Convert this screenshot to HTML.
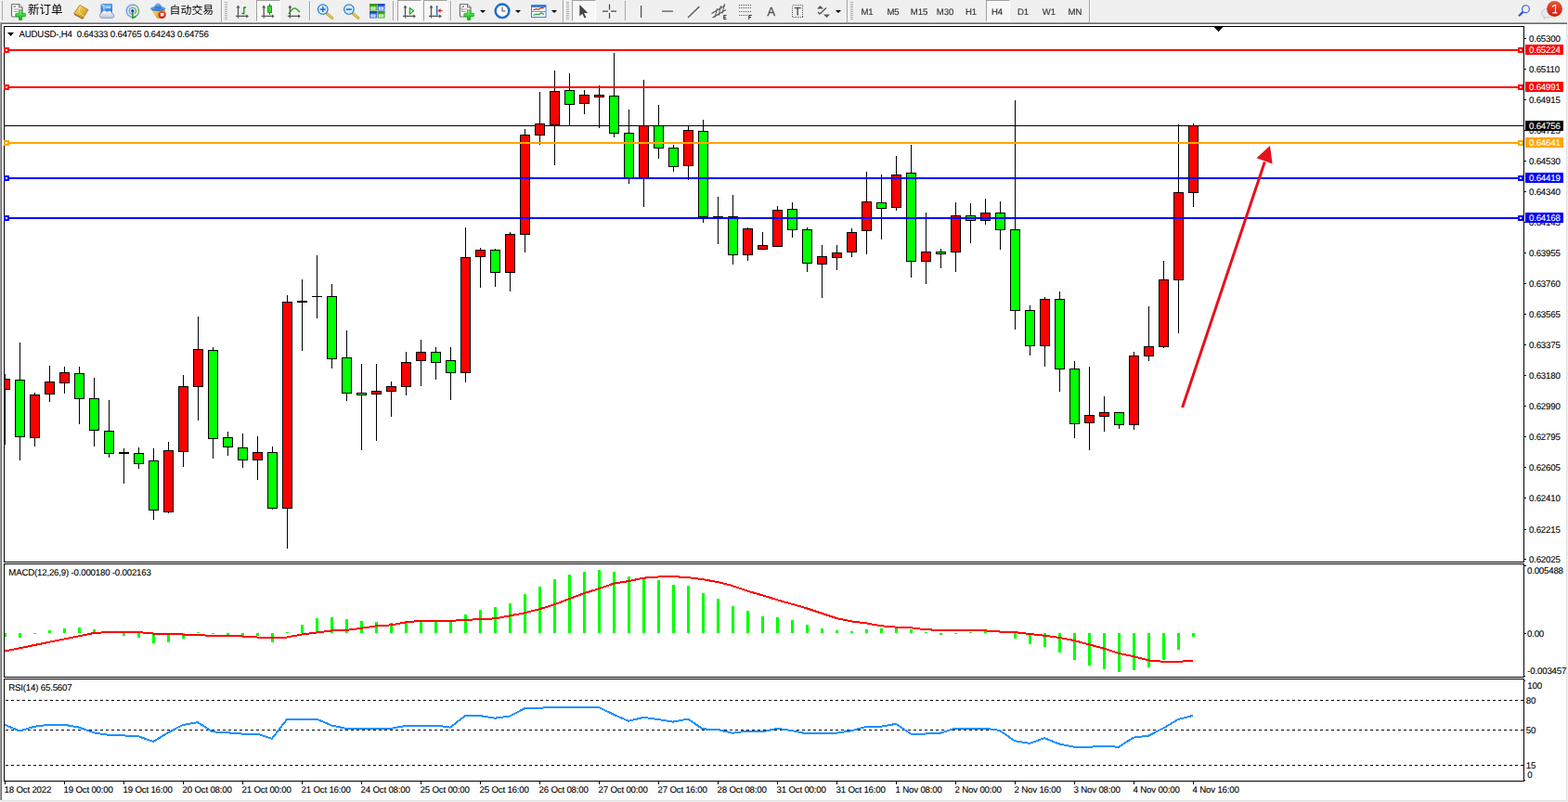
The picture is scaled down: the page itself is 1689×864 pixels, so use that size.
<!DOCTYPE html>
<html><head><meta charset="utf-8"><title>AUDUSD-,H4</title>
<style>
html,body{margin:0;padding:0}
body{width:1689px;height:864px;overflow:hidden;background:#f0f0f0;font-family:"Liberation Sans",sans-serif;position:relative}
.t{position:absolute;white-space:nowrap;font-size:9.7px;letter-spacing:-0.2px;line-height:10px;color:#000;text-rendering:geometricPrecision;-webkit-text-stroke:0.1px currentColor}
#frame{position:absolute;left:0;top:24px;width:1689px;height:840px;background:#fff}
#frame i{position:absolute;display:block}
svg{position:absolute;left:0;top:0}
.tf{position:absolute;top:9px;width:28px;text-align:center;font-size:9.6px;letter-spacing:-0.05px;line-height:10px;color:#333;text-rendering:geometricPrecision;will-change:transform;-webkit-text-stroke:0.15px #333}
.pb{position:absolute;top:0;height:23px;background:repeating-conic-gradient(#fff 0 25%,#f0f0f0 0 50%) 0 0/2px 2px;border-top:1px solid #a0a0a0;border-left:1px solid #a0a0a0;border-right:1px solid #fff;border-bottom:1px solid #fff;box-sizing:border-box}
.sep{position:absolute;top:1px;width:1px;height:21px;background:#a0a0a0;border-right:1px solid #fff}
.grip{position:absolute;top:2px;width:3px;height:19px;background:repeating-linear-gradient(to bottom,#b0b0b0 0,#b0b0b0 1px,#f0f0f0 1px,#f0f0f0 2px)}
.dd{position:absolute;top:11px;width:0;height:0;border-left:3px solid transparent;border-right:3px solid transparent;border-top:3px solid #000}
</style></head><body>

<div id="frame">
<i style="left:0;top:0;width:1688px;height:1px;background:#a0a0a0"></i>
<i style="left:0;top:1px;width:1688px;height:1px;background:#696969"></i>
<i style="left:0;top:0;width:1px;height:838px;background:#a0a0a0"></i>
<i style="left:1px;top:1px;width:1px;height:837px;background:#696969"></i>
<i style="left:1687px;top:2px;width:1px;height:837px;background:#e3e3e3"></i>
<i style="left:1688px;top:0;width:1px;height:840px;background:#f0f0f0"></i>
<i style="left:1px;top:838px;width:1687px;height:1px;background:#e3e3e3"></i>
<i style="left:0;top:839px;width:1689px;height:1px;background:#f0f0f0"></i>
</div>
<svg width="1689" height="864" viewBox="0 0 1689 864" shape-rendering="crispEdges">
<rect x="4" y="28" width="1638" height="1" fill="#000"/>
<rect x="4" y="28" width="1" height="578" fill="#000"/>
<rect x="4" y="605" width="1638" height="1" fill="#000"/>
<rect x="4" y="607" width="1638" height="1" fill="#000"/>
<rect x="4" y="607" width="1" height="123" fill="#000"/>
<rect x="4" y="729" width="1638" height="1" fill="#000"/>
<rect x="4" y="731" width="1638" height="1" fill="#000"/>
<rect x="4" y="731" width="1" height="111" fill="#000"/>
<rect x="4" y="841" width="1638" height="1" fill="#000"/>
<rect x="1641" y="28" width="1" height="578" fill="#000"/>
<rect x="1641" y="607" width="1" height="123" fill="#000"/>
<rect x="1641" y="731" width="1" height="111" fill="#000"/>
<clipPath id="cp"><rect x="5" y="29" width="1636" height="812"/></clipPath><g clip-path="url(#cp)">
<rect x="5" y="135" width="1636" height="1" fill="#000"/>
<rect x="5" y="403" width="1" height="76" fill="#000"/>
<rect x="0" y="408" width="11" height="12" fill="#000"/>
<rect x="1" y="409" width="9" height="10" fill="#ff0000"/>
<rect x="21" y="369" width="1" height="127" fill="#000"/>
<rect x="16" y="409" width="11" height="62" fill="#000"/>
<rect x="17" y="410" width="9" height="60" fill="#00ff00"/>
<rect x="37" y="423" width="1" height="58" fill="#000"/>
<rect x="32" y="425" width="11" height="47" fill="#000"/>
<rect x="33" y="426" width="9" height="45" fill="#ff0000"/>
<rect x="53" y="394" width="1" height="39" fill="#000"/>
<rect x="48" y="411" width="11" height="14" fill="#000"/>
<rect x="49" y="412" width="9" height="12" fill="#ff0000"/>
<rect x="69" y="395" width="1" height="29" fill="#000"/>
<rect x="64" y="401" width="11" height="12" fill="#000"/>
<rect x="65" y="402" width="9" height="10" fill="#ff0000"/>
<rect x="85" y="395" width="1" height="62" fill="#000"/>
<rect x="80" y="402" width="11" height="28" fill="#000"/>
<rect x="81" y="403" width="9" height="26" fill="#00ff00"/>
<rect x="101" y="407" width="1" height="74" fill="#000"/>
<rect x="96" y="429" width="11" height="35" fill="#000"/>
<rect x="97" y="430" width="9" height="33" fill="#00ff00"/>
<rect x="117" y="431" width="1" height="62" fill="#000"/>
<rect x="112" y="464" width="11" height="25" fill="#000"/>
<rect x="113" y="465" width="9" height="23" fill="#00ff00"/>
<rect x="133" y="483" width="1" height="38" fill="#000"/>
<rect x="128" y="487" width="11" height="2" fill="#000"/>
<rect x="149" y="482" width="1" height="23" fill="#000"/>
<rect x="144" y="488" width="11" height="12" fill="#000"/>
<rect x="145" y="489" width="9" height="10" fill="#00ff00"/>
<rect x="165" y="483" width="1" height="77" fill="#000"/>
<rect x="160" y="496" width="11" height="54" fill="#000"/>
<rect x="161" y="497" width="9" height="52" fill="#00ff00"/>
<rect x="181" y="476" width="1" height="77" fill="#000"/>
<rect x="176" y="485" width="11" height="67" fill="#000"/>
<rect x="177" y="486" width="9" height="65" fill="#ff0000"/>
<rect x="197" y="404" width="1" height="99" fill="#000"/>
<rect x="192" y="416" width="11" height="71" fill="#000"/>
<rect x="193" y="417" width="9" height="69" fill="#ff0000"/>
<rect x="213" y="341" width="1" height="112" fill="#000"/>
<rect x="208" y="376" width="11" height="41" fill="#000"/>
<rect x="209" y="377" width="9" height="39" fill="#ff0000"/>
<rect x="229" y="374" width="1" height="120" fill="#000"/>
<rect x="224" y="377" width="11" height="96" fill="#000"/>
<rect x="225" y="378" width="9" height="94" fill="#00ff00"/>
<rect x="245" y="465" width="1" height="26" fill="#000"/>
<rect x="240" y="471" width="11" height="11" fill="#000"/>
<rect x="241" y="472" width="9" height="9" fill="#00ff00"/>
<rect x="261" y="467" width="1" height="37" fill="#000"/>
<rect x="256" y="482" width="11" height="14" fill="#000"/>
<rect x="257" y="483" width="9" height="12" fill="#00ff00"/>
<rect x="277" y="470" width="1" height="47" fill="#000"/>
<rect x="272" y="487" width="11" height="9" fill="#000"/>
<rect x="273" y="488" width="9" height="7" fill="#ff0000"/>
<rect x="293" y="481" width="1" height="68" fill="#000"/>
<rect x="288" y="487" width="11" height="61" fill="#000"/>
<rect x="289" y="488" width="9" height="59" fill="#00ff00"/>
<rect x="309" y="318" width="1" height="273" fill="#000"/>
<rect x="304" y="325" width="11" height="223" fill="#000"/>
<rect x="305" y="326" width="9" height="221" fill="#ff0000"/>
<rect x="325" y="301" width="1" height="77" fill="#000"/>
<rect x="320" y="324" width="11" height="2" fill="#000"/>
<rect x="341" y="275" width="1" height="68" fill="#000"/>
<rect x="336" y="319" width="11" height="1" fill="#000"/>
<rect x="357" y="306" width="1" height="91" fill="#000"/>
<rect x="352" y="319" width="11" height="68" fill="#000"/>
<rect x="353" y="320" width="9" height="66" fill="#00ff00"/>
<rect x="373" y="356" width="1" height="76" fill="#000"/>
<rect x="368" y="385" width="11" height="39" fill="#000"/>
<rect x="369" y="386" width="9" height="37" fill="#00ff00"/>
<rect x="389" y="392" width="1" height="93" fill="#000"/>
<rect x="384" y="423" width="11" height="3" fill="#000"/>
<rect x="385" y="424" width="9" height="1" fill="#00ff00"/>
<rect x="405" y="392" width="1" height="83" fill="#000"/>
<rect x="400" y="421" width="11" height="4" fill="#000"/>
<rect x="401" y="422" width="9" height="2" fill="#ff0000"/>
<rect x="421" y="411" width="1" height="38" fill="#000"/>
<rect x="416" y="416" width="11" height="6" fill="#000"/>
<rect x="417" y="417" width="9" height="4" fill="#ff0000"/>
<rect x="437" y="379" width="1" height="47" fill="#000"/>
<rect x="432" y="390" width="11" height="27" fill="#000"/>
<rect x="433" y="391" width="9" height="25" fill="#ff0000"/>
<rect x="453" y="366" width="1" height="50" fill="#000"/>
<rect x="448" y="379" width="11" height="10" fill="#000"/>
<rect x="449" y="380" width="9" height="8" fill="#ff0000"/>
<rect x="469" y="374" width="1" height="35" fill="#000"/>
<rect x="464" y="379" width="11" height="12" fill="#000"/>
<rect x="465" y="380" width="9" height="10" fill="#00ff00"/>
<rect x="485" y="374" width="1" height="57" fill="#000"/>
<rect x="480" y="388" width="11" height="14" fill="#000"/>
<rect x="481" y="389" width="9" height="12" fill="#00ff00"/>
<rect x="501" y="245" width="1" height="167" fill="#000"/>
<rect x="496" y="277" width="11" height="125" fill="#000"/>
<rect x="497" y="278" width="9" height="123" fill="#ff0000"/>
<rect x="517" y="267" width="1" height="43" fill="#000"/>
<rect x="512" y="269" width="11" height="8" fill="#000"/>
<rect x="513" y="270" width="9" height="6" fill="#ff0000"/>
<rect x="533" y="268" width="1" height="41" fill="#000"/>
<rect x="528" y="269" width="11" height="25" fill="#000"/>
<rect x="529" y="270" width="9" height="23" fill="#00ff00"/>
<rect x="549" y="250" width="1" height="64" fill="#000"/>
<rect x="544" y="252" width="11" height="42" fill="#000"/>
<rect x="545" y="253" width="9" height="40" fill="#ff0000"/>
<rect x="565" y="139" width="1" height="133" fill="#000"/>
<rect x="560" y="145" width="11" height="108" fill="#000"/>
<rect x="561" y="146" width="9" height="106" fill="#ff0000"/>
<rect x="581" y="99" width="1" height="57" fill="#000"/>
<rect x="576" y="133" width="11" height="13" fill="#000"/>
<rect x="577" y="134" width="9" height="11" fill="#ff0000"/>
<rect x="597" y="76" width="1" height="102" fill="#000"/>
<rect x="592" y="98" width="11" height="37" fill="#000"/>
<rect x="593" y="99" width="9" height="35" fill="#ff0000"/>
<rect x="613" y="79" width="1" height="57" fill="#000"/>
<rect x="608" y="97" width="11" height="16" fill="#000"/>
<rect x="609" y="98" width="9" height="14" fill="#00ff00"/>
<rect x="629" y="97" width="1" height="26" fill="#000"/>
<rect x="624" y="102" width="11" height="10" fill="#000"/>
<rect x="625" y="103" width="9" height="8" fill="#ff0000"/>
<rect x="645" y="92" width="1" height="46" fill="#000"/>
<rect x="640" y="102" width="11" height="3" fill="#000"/>
<rect x="641" y="103" width="9" height="1" fill="#ff0000"/>
<rect x="661" y="57" width="1" height="91" fill="#000"/>
<rect x="656" y="103" width="11" height="41" fill="#000"/>
<rect x="657" y="104" width="9" height="39" fill="#00ff00"/>
<rect x="677" y="118" width="1" height="80" fill="#000"/>
<rect x="672" y="143" width="11" height="49" fill="#000"/>
<rect x="673" y="144" width="9" height="47" fill="#00ff00"/>
<rect x="693" y="86" width="1" height="137" fill="#000"/>
<rect x="688" y="135" width="11" height="57" fill="#000"/>
<rect x="689" y="136" width="9" height="55" fill="#ff0000"/>
<rect x="709" y="113" width="1" height="58" fill="#000"/>
<rect x="704" y="135" width="11" height="25" fill="#000"/>
<rect x="705" y="136" width="9" height="23" fill="#00ff00"/>
<rect x="725" y="156" width="1" height="29" fill="#000"/>
<rect x="720" y="159" width="11" height="21" fill="#000"/>
<rect x="721" y="160" width="9" height="19" fill="#00ff00"/>
<rect x="741" y="135" width="1" height="59" fill="#000"/>
<rect x="736" y="140" width="11" height="39" fill="#000"/>
<rect x="737" y="141" width="9" height="37" fill="#ff0000"/>
<rect x="757" y="129" width="1" height="111" fill="#000"/>
<rect x="752" y="141" width="11" height="93" fill="#000"/>
<rect x="753" y="142" width="9" height="91" fill="#00ff00"/>
<rect x="773" y="212" width="1" height="51" fill="#000"/>
<rect x="768" y="233" width="11" height="1" fill="#000"/>
<rect x="789" y="210" width="1" height="75" fill="#000"/>
<rect x="784" y="233" width="11" height="42" fill="#000"/>
<rect x="785" y="234" width="9" height="40" fill="#00ff00"/>
<rect x="805" y="245" width="1" height="36" fill="#000"/>
<rect x="800" y="246" width="11" height="29" fill="#000"/>
<rect x="801" y="247" width="9" height="27" fill="#ff0000"/>
<rect x="821" y="250" width="1" height="19" fill="#000"/>
<rect x="816" y="264" width="11" height="5" fill="#000"/>
<rect x="817" y="265" width="9" height="3" fill="#ff0000"/>
<rect x="837" y="222" width="1" height="44" fill="#000"/>
<rect x="832" y="226" width="11" height="40" fill="#000"/>
<rect x="833" y="227" width="9" height="38" fill="#ff0000"/>
<rect x="853" y="218" width="1" height="38" fill="#000"/>
<rect x="848" y="225" width="11" height="23" fill="#000"/>
<rect x="849" y="226" width="9" height="21" fill="#00ff00"/>
<rect x="869" y="245" width="1" height="48" fill="#000"/>
<rect x="864" y="247" width="11" height="37" fill="#000"/>
<rect x="865" y="248" width="9" height="35" fill="#00ff00"/>
<rect x="885" y="264" width="1" height="57" fill="#000"/>
<rect x="880" y="276" width="11" height="9" fill="#000"/>
<rect x="881" y="277" width="9" height="7" fill="#ff0000"/>
<rect x="901" y="264" width="1" height="27" fill="#000"/>
<rect x="896" y="272" width="11" height="6" fill="#000"/>
<rect x="897" y="273" width="9" height="4" fill="#ff0000"/>
<rect x="917" y="246" width="1" height="31" fill="#000"/>
<rect x="912" y="250" width="11" height="22" fill="#000"/>
<rect x="913" y="251" width="9" height="20" fill="#ff0000"/>
<rect x="933" y="185" width="1" height="89" fill="#000"/>
<rect x="928" y="217" width="11" height="32" fill="#000"/>
<rect x="929" y="218" width="9" height="30" fill="#ff0000"/>
<rect x="949" y="188" width="1" height="70" fill="#000"/>
<rect x="944" y="218" width="11" height="7" fill="#000"/>
<rect x="945" y="219" width="9" height="5" fill="#00ff00"/>
<rect x="965" y="168" width="1" height="59" fill="#000"/>
<rect x="960" y="188" width="11" height="36" fill="#000"/>
<rect x="961" y="189" width="9" height="34" fill="#ff0000"/>
<rect x="981" y="156" width="1" height="143" fill="#000"/>
<rect x="976" y="186" width="11" height="96" fill="#000"/>
<rect x="977" y="187" width="9" height="94" fill="#00ff00"/>
<rect x="997" y="229" width="1" height="77" fill="#000"/>
<rect x="992" y="271" width="11" height="11" fill="#000"/>
<rect x="993" y="272" width="9" height="9" fill="#ff0000"/>
<rect x="1013" y="268" width="1" height="21" fill="#000"/>
<rect x="1008" y="271" width="11" height="3" fill="#000"/>
<rect x="1009" y="272" width="9" height="1" fill="#00ff00"/>
<rect x="1029" y="218" width="1" height="75" fill="#000"/>
<rect x="1024" y="232" width="11" height="40" fill="#000"/>
<rect x="1025" y="233" width="9" height="38" fill="#ff0000"/>
<rect x="1045" y="219" width="1" height="43" fill="#000"/>
<rect x="1040" y="232" width="11" height="6" fill="#000"/>
<rect x="1041" y="233" width="9" height="4" fill="#00ff00"/>
<rect x="1061" y="214" width="1" height="28" fill="#000"/>
<rect x="1056" y="229" width="11" height="9" fill="#000"/>
<rect x="1057" y="230" width="9" height="7" fill="#ff0000"/>
<rect x="1077" y="217" width="1" height="52" fill="#000"/>
<rect x="1072" y="229" width="11" height="19" fill="#000"/>
<rect x="1073" y="230" width="9" height="17" fill="#00ff00"/>
<rect x="1093" y="108" width="1" height="247" fill="#000"/>
<rect x="1088" y="247" width="11" height="88" fill="#000"/>
<rect x="1089" y="248" width="9" height="86" fill="#00ff00"/>
<rect x="1109" y="329" width="1" height="54" fill="#000"/>
<rect x="1104" y="334" width="11" height="39" fill="#000"/>
<rect x="1105" y="335" width="9" height="37" fill="#00ff00"/>
<rect x="1125" y="320" width="1" height="75" fill="#000"/>
<rect x="1120" y="322" width="11" height="51" fill="#000"/>
<rect x="1121" y="323" width="9" height="49" fill="#ff0000"/>
<rect x="1141" y="314" width="1" height="108" fill="#000"/>
<rect x="1136" y="322" width="11" height="76" fill="#000"/>
<rect x="1137" y="323" width="9" height="74" fill="#00ff00"/>
<rect x="1157" y="389" width="1" height="83" fill="#000"/>
<rect x="1152" y="397" width="11" height="60" fill="#000"/>
<rect x="1153" y="398" width="9" height="58" fill="#00ff00"/>
<rect x="1173" y="395" width="1" height="90" fill="#000"/>
<rect x="1168" y="447" width="11" height="9" fill="#000"/>
<rect x="1169" y="448" width="9" height="7" fill="#ff0000"/>
<rect x="1189" y="427" width="1" height="38" fill="#000"/>
<rect x="1184" y="444" width="11" height="5" fill="#000"/>
<rect x="1185" y="445" width="9" height="3" fill="#ff0000"/>
<rect x="1205" y="444" width="1" height="18" fill="#000"/>
<rect x="1200" y="444" width="11" height="14" fill="#000"/>
<rect x="1201" y="445" width="9" height="12" fill="#00ff00"/>
<rect x="1221" y="379" width="1" height="84" fill="#000"/>
<rect x="1216" y="383" width="11" height="75" fill="#000"/>
<rect x="1217" y="384" width="9" height="73" fill="#ff0000"/>
<rect x="1237" y="330" width="1" height="59" fill="#000"/>
<rect x="1232" y="373" width="11" height="11" fill="#000"/>
<rect x="1233" y="374" width="9" height="9" fill="#ff0000"/>
<rect x="1253" y="281" width="1" height="94" fill="#000"/>
<rect x="1248" y="301" width="11" height="73" fill="#000"/>
<rect x="1249" y="302" width="9" height="71" fill="#ff0000"/>
<rect x="1269" y="134" width="1" height="225" fill="#000"/>
<rect x="1264" y="207" width="11" height="95" fill="#000"/>
<rect x="1265" y="208" width="9" height="93" fill="#ff0000"/>
<rect x="1285" y="133" width="1" height="90" fill="#000"/>
<rect x="1280" y="135" width="11" height="73" fill="#000"/>
<rect x="1281" y="136" width="9" height="71" fill="#ff0000"/>
</g>
<rect x="5" y="53" width="1636" height="2" fill="#ff0000"/>
<rect x="4" y="51" width="6" height="6" fill="#ff0000"/>
<rect x="6" y="53" width="2" height="2" fill="#fff"/>
<rect x="1635" y="51" width="6" height="6" fill="#ff0000"/>
<rect x="1637" y="53" width="2" height="2" fill="#fff"/>
<rect x="5" y="93" width="1636" height="2" fill="#ff0000"/>
<rect x="4" y="91" width="6" height="6" fill="#ff0000"/>
<rect x="6" y="93" width="2" height="2" fill="#fff"/>
<rect x="1635" y="91" width="6" height="6" fill="#ff0000"/>
<rect x="1637" y="93" width="2" height="2" fill="#fff"/>
<rect x="5" y="153" width="1636" height="2" fill="#ffa500"/>
<rect x="4" y="151" width="6" height="6" fill="#ffa500"/>
<rect x="6" y="153" width="2" height="2" fill="#fff"/>
<rect x="1635" y="151" width="6" height="6" fill="#ffa500"/>
<rect x="1637" y="153" width="2" height="2" fill="#fff"/>
<rect x="5" y="191" width="1636" height="2" fill="#0000ff"/>
<rect x="4" y="189" width="6" height="6" fill="#0000ff"/>
<rect x="6" y="191" width="2" height="2" fill="#fff"/>
<rect x="1635" y="189" width="6" height="6" fill="#0000ff"/>
<rect x="1637" y="191" width="2" height="2" fill="#fff"/>
<rect x="5" y="234" width="1636" height="2" fill="#0000ff"/>
<rect x="4" y="232" width="6" height="6" fill="#0000ff"/>
<rect x="6" y="234" width="2" height="2" fill="#fff"/>
<rect x="1635" y="232" width="6" height="6" fill="#0000ff"/>
<rect x="1637" y="234" width="2" height="2" fill="#fff"/>
<rect x="1308" y="29" width="9" height="1" fill="#000"/>
<rect x="1309" y="30" width="7" height="1" fill="#000"/>
<rect x="1310" y="31" width="5" height="1" fill="#000"/>
<rect x="1311" y="32" width="3" height="1" fill="#000"/>
<rect x="1312" y="33" width="1" height="1" fill="#000"/>
<rect x="1642" y="41" width="2" height="1" fill="#000"/>
<rect x="1642" y="74" width="2" height="1" fill="#000"/>
<rect x="1642" y="107" width="2" height="1" fill="#000"/>
<rect x="1642" y="140" width="2" height="1" fill="#000"/>
<rect x="1642" y="173" width="2" height="1" fill="#000"/>
<rect x="1642" y="206" width="2" height="1" fill="#000"/>
<rect x="1642" y="239" width="2" height="1" fill="#000"/>
<rect x="1642" y="272" width="2" height="1" fill="#000"/>
<rect x="1642" y="305" width="2" height="1" fill="#000"/>
<rect x="1642" y="338" width="2" height="1" fill="#000"/>
<rect x="1642" y="371" width="2" height="1" fill="#000"/>
<rect x="1642" y="404" width="2" height="1" fill="#000"/>
<rect x="1642" y="437" width="2" height="1" fill="#000"/>
<rect x="1642" y="470" width="2" height="1" fill="#000"/>
<rect x="1642" y="503" width="2" height="1" fill="#000"/>
<rect x="1642" y="536" width="2" height="1" fill="#000"/>
<rect x="1642" y="570" width="2" height="1" fill="#000"/>
<rect x="1642" y="602" width="2" height="1" fill="#000"/>
<g clip-path="url(#cp)">
<rect x="4" y="682" width="3" height="4" fill="#00ff00"/>
<rect x="20" y="682" width="3" height="5" fill="#00ff00"/>
<rect x="36" y="682" width="3" height="1" fill="#00ff00"/>
<rect x="52" y="679" width="3" height="3" fill="#00ff00"/>
<rect x="68" y="677" width="3" height="5" fill="#00ff00"/>
<rect x="84" y="676" width="3" height="6" fill="#00ff00"/>
<rect x="100" y="678" width="3" height="4" fill="#00ff00"/>
<rect x="116" y="681" width="3" height="1" fill="#00ff00"/>
<rect x="132" y="682" width="3" height="3" fill="#00ff00"/>
<rect x="148" y="682" width="3" height="5" fill="#00ff00"/>
<rect x="164" y="682" width="3" height="11" fill="#00ff00"/>
<rect x="180" y="682" width="3" height="10" fill="#00ff00"/>
<rect x="196" y="682" width="3" height="6" fill="#00ff00"/>
<rect x="212" y="681" width="3" height="1" fill="#00ff00"/>
<rect x="228" y="682" width="3" height="1" fill="#00ff00"/>
<rect x="244" y="682" width="3" height="4" fill="#00ff00"/>
<rect x="260" y="682" width="3" height="4" fill="#00ff00"/>
<rect x="276" y="682" width="3" height="3" fill="#00ff00"/>
<rect x="292" y="682" width="3" height="10" fill="#00ff00"/>
<rect x="308" y="681" width="3" height="1" fill="#00ff00"/>
<rect x="324" y="673" width="3" height="9" fill="#00ff00"/>
<rect x="340" y="666" width="3" height="16" fill="#00ff00"/>
<rect x="356" y="665" width="3" height="17" fill="#00ff00"/>
<rect x="372" y="667" width="3" height="15" fill="#00ff00"/>
<rect x="388" y="669" width="3" height="13" fill="#00ff00"/>
<rect x="404" y="670" width="3" height="12" fill="#00ff00"/>
<rect x="420" y="671" width="3" height="11" fill="#00ff00"/>
<rect x="436" y="669" width="3" height="13" fill="#00ff00"/>
<rect x="452" y="668" width="3" height="14" fill="#00ff00"/>
<rect x="468" y="669" width="3" height="13" fill="#00ff00"/>
<rect x="484" y="669" width="3" height="13" fill="#00ff00"/>
<rect x="500" y="662" width="3" height="20" fill="#00ff00"/>
<rect x="516" y="657" width="3" height="25" fill="#00ff00"/>
<rect x="532" y="654" width="3" height="28" fill="#00ff00"/>
<rect x="548" y="650" width="3" height="32" fill="#00ff00"/>
<rect x="564" y="640" width="3" height="42" fill="#00ff00"/>
<rect x="580" y="632" width="3" height="50" fill="#00ff00"/>
<rect x="596" y="624" width="3" height="58" fill="#00ff00"/>
<rect x="612" y="619" width="3" height="63" fill="#00ff00"/>
<rect x="628" y="616" width="3" height="66" fill="#00ff00"/>
<rect x="644" y="614" width="3" height="68" fill="#00ff00"/>
<rect x="660" y="616" width="3" height="66" fill="#00ff00"/>
<rect x="676" y="621" width="3" height="61" fill="#00ff00"/>
<rect x="692" y="622" width="3" height="60" fill="#00ff00"/>
<rect x="708" y="625" width="3" height="57" fill="#00ff00"/>
<rect x="724" y="630" width="3" height="52" fill="#00ff00"/>
<rect x="740" y="631" width="3" height="51" fill="#00ff00"/>
<rect x="756" y="639" width="3" height="43" fill="#00ff00"/>
<rect x="772" y="645" width="3" height="37" fill="#00ff00"/>
<rect x="788" y="653" width="3" height="29" fill="#00ff00"/>
<rect x="804" y="658" width="3" height="24" fill="#00ff00"/>
<rect x="820" y="664" width="3" height="18" fill="#00ff00"/>
<rect x="836" y="665" width="3" height="17" fill="#00ff00"/>
<rect x="852" y="668" width="3" height="14" fill="#00ff00"/>
<rect x="868" y="673" width="3" height="9" fill="#00ff00"/>
<rect x="884" y="677" width="3" height="5" fill="#00ff00"/>
<rect x="900" y="679" width="3" height="3" fill="#00ff00"/>
<rect x="916" y="680" width="3" height="2" fill="#00ff00"/>
<rect x="932" y="678" width="3" height="4" fill="#00ff00"/>
<rect x="948" y="677" width="3" height="5" fill="#00ff00"/>
<rect x="964" y="677" width="3" height="5" fill="#00ff00"/>
<rect x="980" y="678" width="3" height="4" fill="#00ff00"/>
<rect x="996" y="681" width="3" height="1" fill="#00ff00"/>
<rect x="1012" y="682" width="3" height="2" fill="#00ff00"/>
<rect x="1028" y="682" width="3" height="1" fill="#00ff00"/>
<rect x="1044" y="681" width="3" height="1" fill="#00ff00"/>
<rect x="1060" y="680" width="3" height="2" fill="#00ff00"/>
<rect x="1076" y="681" width="3" height="1" fill="#00ff00"/>
<rect x="1092" y="682" width="3" height="6" fill="#00ff00"/>
<rect x="1108" y="682" width="3" height="12" fill="#00ff00"/>
<rect x="1124" y="682" width="3" height="15" fill="#00ff00"/>
<rect x="1140" y="682" width="3" height="21" fill="#00ff00"/>
<rect x="1156" y="682" width="3" height="29" fill="#00ff00"/>
<rect x="1172" y="682" width="3" height="35" fill="#00ff00"/>
<rect x="1188" y="682" width="3" height="39" fill="#00ff00"/>
<rect x="1204" y="682" width="3" height="42" fill="#00ff00"/>
<rect x="1220" y="682" width="3" height="40" fill="#00ff00"/>
<rect x="1236" y="682" width="3" height="37" fill="#00ff00"/>
<rect x="1252" y="682" width="3" height="29" fill="#00ff00"/>
<rect x="1268" y="682" width="3" height="18" fill="#00ff00"/>
<rect x="1284" y="682" width="3" height="4" fill="#00ff00"/>
<polyline points="5,701.5 21,698.3 37,695.0 53,691.8 69,688.5 85,685.3 101,682.0 117,681.0 133,681.0 149,681.0 165,682.5 181,682.5 197,683.5 213,684.0 229,685.0 245,685.0 261,685.5 277,686.5 293,686.5 309,686.5 325,683.5 341,681.5 357,679.5 373,678.9 389,676.8 405,674.4 421,673.4 437,670.4 453,668.8 469,668.8 485,668.8 501,668.0 517,667.0 533,666.4 549,663.4 565,660.3 581,656.3 597,651.3 613,645.2 629,639.2 645,634.2 661,628.7 677,626.1 693,622.7 709,621.5 725,621.1 741,622.1 757,624.1 773,627.1 789,631.1 805,636.6 821,641.2 837,646.2 853,650.7 869,655.3 885,660.7 901,666.0 917,669.4 933,671.4 949,674.3 965,675.6 981,676.2 997,678.3 1013,678.8 1029,678.8 1045,678.8 1061,679.4 1077,680.5 1093,681.1 1109,683.0 1125,684.7 1141,686.9 1157,690.0 1173,694.3 1189,698.6 1205,703.9 1221,707.1 1237,711.4 1253,712.8 1269,712.8 1285,711.8" fill="none" stroke="#ff0000" stroke-width="2" stroke-linejoin="round"/>
<path d="M6 754.5H1641" stroke="#000" stroke-width="1" stroke-dasharray="3 3" fill="none"/>
<path d="M6 786.5H1641" stroke="#000" stroke-width="1" stroke-dasharray="3 3" fill="none"/>
<path d="M6 824.5H1641" stroke="#000" stroke-width="1" stroke-dasharray="3 3" fill="none"/>
<polyline points="5,780.7 21,787.5 37,782.8 53,780.7 69,780.7 85,783.6 101,789.3 117,791.9 133,792.4 149,793.2 165,798.9 181,789.3 197,781.0 213,778.1 229,788.3 245,789.3 261,790.6 277,790.6 293,795.8 309,775.0 325,774.5 341,774.5 357,781.5 373,784.9 389,785.4 405,785.1 421,784.8 437,782.0 453,781.5 469,781.5 485,783.6 501,771.1 517,771.1 533,773.7 549,771.6 565,763.3 581,762.7 597,762.0 613,762.5 629,762.0 645,762.0 661,769.8 677,776.8 693,772.9 709,775.0 725,777.6 741,774.5 757,785.4 773,785.9 789,789.8 805,787.5 821,788.3 837,784.9 853,787.0 869,790.5 885,790.3 901,789.7 917,787.3 933,782.9 949,782.7 965,779.9 981,790.5 997,790.5 1013,789.7 1029,784.6 1045,784.6 1061,784.6 1077,787.0 1093,798.2 1109,800.9 1125,795.2 1141,801.4 1157,804.7 1173,804.7 1189,803.9 1205,804.7 1221,794.6 1237,792.7 1253,784.6 1269,775.0 1285,770.9" fill="none" stroke="#1e90ff" stroke-width="2" stroke-linejoin="round"/>
</g>
<rect x="1642" y="682" width="2" height="1" fill="#000"/>
<rect x="1642" y="728" width="1" height="1" fill="#000"/>
<rect x="1642" y="733" width="1" height="1" fill="#000"/>
<rect x="1642" y="840" width="1" height="1" fill="#000"/>
<rect x="1642" y="609" width="2" height="1" fill="#000"/>
<rect x="5" y="842" width="1" height="3" fill="#000"/>
<rect x="69" y="842" width="1" height="3" fill="#000"/>
<rect x="133" y="842" width="1" height="3" fill="#000"/>
<rect x="197" y="842" width="1" height="3" fill="#000"/>
<rect x="261" y="842" width="1" height="3" fill="#000"/>
<rect x="325" y="842" width="1" height="3" fill="#000"/>
<rect x="389" y="842" width="1" height="3" fill="#000"/>
<rect x="453" y="842" width="1" height="3" fill="#000"/>
<rect x="517" y="842" width="1" height="3" fill="#000"/>
<rect x="581" y="842" width="1" height="3" fill="#000"/>
<rect x="645" y="842" width="1" height="3" fill="#000"/>
<rect x="709" y="842" width="1" height="3" fill="#000"/>
<rect x="773" y="842" width="1" height="3" fill="#000"/>
<rect x="837" y="842" width="1" height="3" fill="#000"/>
<rect x="901" y="842" width="1" height="3" fill="#000"/>
<rect x="965" y="842" width="1" height="3" fill="#000"/>
<rect x="1029" y="842" width="1" height="3" fill="#000"/>
<rect x="1093" y="842" width="1" height="3" fill="#000"/>
<rect x="1157" y="842" width="1" height="3" fill="#000"/>
<rect x="1221" y="842" width="1" height="3" fill="#000"/>
<rect x="1285" y="842" width="1" height="3" fill="#000"/>
</svg>
<svg width="1689" height="864" viewBox="0 0 1689 864">
<path d="M1273.6 438.9L1362.3 174.5" stroke="#e8111b" stroke-width="3" fill="none"/>
<path d="M1368 157L1353.500 170.200L1370.600 176.400Z" fill="#e8111b"/>
<path d="M8 35h7l-3.5 4z" fill="#000"/>
</svg>
<div class="t" style="left:20.5px;top:32.9px;color:#000;">AUDUSD-,H4&nbsp; 0.64333 0.64765 0.64243 0.64756</div>
<div class="t" style="left:9.3px;top:612.9px;color:#000;">MACD(12,26,9) -0.000180 -0.002163</div>
<div class="t" style="left:9.3px;top:736.9px;color:#000;">RSI(14) 65.5607</div>
<div class="t" style="left:1647px;top:37.9px;color:#000;">0.65300</div>
<div class="t" style="left:1647px;top:70.9px;color:#000;">0.65110</div>
<div class="t" style="left:1647px;top:103.9px;color:#000;">0.64915</div>
<div class="t" style="left:1647px;top:136.9px;color:#000;">0.64725</div>
<div class="t" style="left:1647px;top:169.9px;color:#000;">0.64530</div>
<div class="t" style="left:1647px;top:202.9px;color:#000;">0.64340</div>
<div class="t" style="left:1647px;top:235.9px;color:#000;">0.64145</div>
<div class="t" style="left:1647px;top:268.9px;color:#000;">0.63955</div>
<div class="t" style="left:1647px;top:301.9px;color:#000;">0.63760</div>
<div class="t" style="left:1647px;top:334.9px;color:#000;">0.63565</div>
<div class="t" style="left:1647px;top:367.9px;color:#000;">0.63375</div>
<div class="t" style="left:1647px;top:400.9px;color:#000;">0.63180</div>
<div class="t" style="left:1647px;top:433.9px;color:#000;">0.62990</div>
<div class="t" style="left:1647px;top:466.9px;color:#000;">0.62795</div>
<div class="t" style="left:1647px;top:499.9px;color:#000;">0.62605</div>
<div class="t" style="left:1647px;top:532.9px;color:#000;">0.62410</div>
<div class="t" style="left:1647px;top:566.9px;color:#000;">0.62215</div>
<div class="t" style="left:1647px;top:598.9px;color:#000;">0.62025</div>
<div style="position:absolute;left:1643px;top:48px;width:41px;height:11px;background:#ff0000"></div>
<div class="t" style="left:1647px;top:49.9px;color:#fff;">0.65224</div>
<div style="position:absolute;left:1643px;top:88px;width:41px;height:11px;background:#ff0000"></div>
<div class="t" style="left:1647px;top:89.9px;color:#fff;">0.64991</div>
<div style="position:absolute;left:1643px;top:130px;width:41px;height:11px;background:#000"></div>
<div class="t" style="left:1647px;top:131.9px;color:#fff;">0.64756</div>
<div style="position:absolute;left:1643px;top:148px;width:41px;height:11px;background:#ffa500"></div>
<div class="t" style="left:1647px;top:149.9px;color:#fff;">0.64641</div>
<div style="position:absolute;left:1643px;top:186px;width:41px;height:11px;background:#0000ff"></div>
<div class="t" style="left:1647px;top:187.9px;color:#fff;">0.64419</div>
<div style="position:absolute;left:1643px;top:229px;width:41px;height:11px;background:#0000ff"></div>
<div class="t" style="left:1647px;top:230.9px;color:#fff;">0.64168</div>
<div class="t" style="left:1645px;top:610.9px;color:#000;">0.005488</div>
<div class="t" style="left:1645px;top:678.6px;color:#000;">0.00</div>
<div class="t" style="left:1645.3px;top:718.9px;color:#000;">-0.003457</div>
<div class="t" style="left:1645.3px;top:734.7px;color:#000;">100</div>
<div class="t" style="left:1643.8px;top:750.5px;color:#000;">80</div>
<div class="t" style="left:1643.8px;top:782.7px;color:#000;">50</div>
<div class="t" style="left:1643.8px;top:820.9px;color:#000;">15</div>
<div class="t" style="left:1645.3px;top:830.7px;color:#000;">0</div>
<div class="t" style="left:4.6px;top:846.9px;color:#000;">18 Oct 2022</div>
<div class="t" style="left:68.6px;top:846.9px;color:#000;">19 Oct 00:00</div>
<div class="t" style="left:132.6px;top:846.9px;color:#000;">19 Oct 16:00</div>
<div class="t" style="left:196.6px;top:846.9px;color:#000;">20 Oct 08:00</div>
<div class="t" style="left:260.6px;top:846.9px;color:#000;">21 Oct 00:00</div>
<div class="t" style="left:324.6px;top:846.9px;color:#000;">21 Oct 16:00</div>
<div class="t" style="left:388.6px;top:846.9px;color:#000;">24 Oct 08:00</div>
<div class="t" style="left:452.6px;top:846.9px;color:#000;">25 Oct 00:00</div>
<div class="t" style="left:516.6px;top:846.9px;color:#000;">25 Oct 16:00</div>
<div class="t" style="left:580.6px;top:846.9px;color:#000;">26 Oct 08:00</div>
<div class="t" style="left:644.6px;top:846.9px;color:#000;">27 Oct 00:00</div>
<div class="t" style="left:708.6px;top:846.9px;color:#000;">27 Oct 16:00</div>
<div class="t" style="left:772.6px;top:846.9px;color:#000;">28 Oct 08:00</div>
<div class="t" style="left:836.6px;top:846.9px;color:#000;">31 Oct 00:00</div>
<div class="t" style="left:900.6px;top:846.9px;color:#000;">31 Oct 16:00</div>
<div class="t" style="left:964.6px;top:846.9px;color:#000;">1 Nov 08:00</div>
<div class="t" style="left:1028.6px;top:846.9px;color:#000;">2 Nov 00:00</div>
<div class="t" style="left:1092.6px;top:846.9px;color:#000;">2 Nov 16:00</div>
<div class="t" style="left:1156.6px;top:846.9px;color:#000;">3 Nov 08:00</div>
<div class="t" style="left:1220.6px;top:846.9px;color:#000;">4 Nov 00:00</div>
<div class="t" style="left:1284.6px;top:846.9px;color:#000;">4 Nov 16:00</div>
<div id="tb" style="position:absolute;left:0;top:0;width:1689px;height:24px;background:#f0f0f0">
<div class="pb" style="left:276px;width:26px"></div>
<div class="pb" style="left:428px;width:26px"></div>
<div class="pb" style="left:456px;width:26px"></div>
<div class="pb" style="left:616px;width:26px"></div>
<div class="pb" style="left:1062px;width:26px"></div>
<div class="sep" style="left:333px"></div>
<div class="sep" style="left:423px"></div>
<div class="sep" style="left:485px"></div>
<div class="sep" style="left:673px"></div>
<div class="sep" style="left:238px;top:0;height:24px"></div>
<div class="sep" style="left:606px;top:0;height:24px"></div>
<div class="sep" style="left:912px;top:0;height:24px"></div>
<div class="sep" style="left:1173px;top:0;height:24px"></div>
<div class="sep" style="left:2px;border-right:none;background:#a8a8a8"></div>
<div class="grip" style="left:242px"></div>
<div class="grip" style="left:610px"></div>
<div class="grip" style="left:916px"></div>
<div class="dd" style="left:516.5px"></div>
<div class="dd" style="left:555.3px"></div>
<div class="dd" style="left:594.4px"></div>
<div class="dd" style="left:900.3px"></div>
<div class="tf" style="left:920px">M1</div>
<div class="tf" style="left:948px">M5</div>
<div class="tf" style="left:976px">M15</div>
<div class="tf" style="left:1004px">M30</div>
<div class="tf" style="left:1032px">H1</div>
<div class="tf" style="left:1060px">H4</div>
<div class="tf" style="left:1088px">D1</div>
<div class="tf" style="left:1116px">W1</div>
<div class="tf" style="left:1144px">MN</div>
<svg width="1689" height="24" viewBox="0 0 1689 24">
<defs><linearGradient id="gp" x1="0" y1="0" x2="0" y2="1"><stop offset="0" stop-color="#7dff7d"/><stop offset="1" stop-color="#00b400"/></linearGradient><linearGradient id="gy" x1="0" y1="0" x2="1" y2="1"><stop offset="0" stop-color="#ffe36a"/><stop offset="1" stop-color="#c98a12"/></linearGradient><linearGradient id="gb" x1="0" y1="0" x2="0" y2="1"><stop offset="0" stop-color="#7fc4f5"/><stop offset="1" stop-color="#1c66c9"/></linearGradient><linearGradient id="gr" x1="0" y1="0" x2="0" y2="1"><stop offset="0" stop-color="#ee5533"/><stop offset="1" stop-color="#cc1a0c"/></linearGradient><linearGradient id="gc" x1="0" y1="0" x2="0" y2="1"><stop offset="0" stop-color="#ffffff"/><stop offset="1" stop-color="#b9c6de"/></linearGradient><g id="doc"><path d="M.5 1.5a1 1 0 0 1 1-1h7l3.5 3.5v9a1 1 0 0 1-1 1h-9.500a1 1 0 0 1-1-1z" fill="#fff" stroke="#6e6e6e" stroke-width="1.200"/><path d="M8.500.5v3.500h3.500" fill="#e6e6e6" stroke="#6e6e6e"/><path d="M2.500 3h2.500" stroke="#777" stroke-width="1.400"/><path d="M2.500 6h6M2.500 8.500h5" stroke="#9a9a9a" stroke-width="1"/></g><g id="plus"><path d="M4 .3h3.200v3.700h3.700v3.200h-3.700v3.700h-3.200v-3.700h-3.700v-3.200h3.700z" fill="url(#gp)" stroke="#0aa00a" stroke-width=".7" stroke-linejoin="round"/></g><g id="axes"><path d="M2.500 13V0M0 11h13" stroke="#555" stroke-width="1.300" fill="none"/><path d="M2.500-.8l-2 2.800h4zM14 11l-2.800-2v4z" fill="#555"/></g></defs>
<text x="29.9" y="15.3" font-size="12.5" fill="#000" style="font-family:'Liberation Sans','Noto Sans CJK SC',sans-serif">新订单</text>
<text x="182.6" y="14.9" font-size="11.9" fill="#000" style="font-family:'Liberation Sans','Noto Sans CJK SC',sans-serif">自动交易</text>
<use href="#doc" x="12" y="4"/><use href="#plus" x="16.500" y="10.500"/>
<path d="M79.500 14.500L86 5.500l9 5-5.500 9z" fill="url(#gy)" stroke="#a8721a" stroke-width=".8"/><path d="M80 15.500l9 4.800 1.200-1.800" fill="none" stroke="#8a5a10" stroke-width="1"/><path d="M86.500 6.500l-1.500 6.500 6 5" fill="none" stroke="#fff3a8" stroke-width=".8" opacity=".8"/>
<path d="M109 4.500h11.500v9.500h-11.500z" fill="url(#gb)" stroke="#2a6fcf" stroke-width=".8"/><path d="M109 4.500l3 1.500v8" fill="none" stroke="#cfe6ff" stroke-width="1"/><path d="M113.500 8h5.500" stroke="#e8f3ff" stroke-width="1.300"/>
<path d="M109.800 19.300a2.700 2.700 0 0 1-.4-5.300 3.300 3.300 0 0 1 6-1.200 2.900 2.900 0 0 1 5.200 1.800 2.300 2.300 0 0 1-.2 4.700z" fill="url(#gc)" stroke="#7d94c4" stroke-width=".9"/>
<circle cx="142.800" cy="11.800" r="7.500" fill="#e4e9f1" stroke="#c3cddc" stroke-width=".6"/>
<path d="M142.800 5.300a6.500 6.500 0 0 0 0 13M142.800 8.200a3.600 3.600 0 0 0 0 7.200" fill="none" stroke="#5b8fe6" stroke-width="1.100"/>
<path d="M142.800 5.300a6.500 6.500 0 0 1 3.200 12.200M142.800 8.200a3.600 3.600 0 0 1 2.200 6.500" fill="none" stroke="#58b058" stroke-width="1.100"/>
<path d="M143 11.800v7.700l3.600-2" fill="none" stroke="#22a022" stroke-width="1.600"/><circle cx="142.800" cy="11.700" r="1.600" fill="#1c3fa8"/>
<path d="M164 11l5.500 8.500h4l4-8.500z" fill="url(#gy)" stroke="#c99a20" stroke-width=".6"/>
<ellipse cx="170.200" cy="9.400" rx="7.800" ry="2.400" fill="url(#gb)" stroke="#3b7fd0" stroke-width=".5"/><path d="M166.300 8.800c.2-3 1.800-5 3.900-5s3.700 2 3.900 5c-1 .8-6.800.8-7.800 0z" fill="url(#gb)" stroke="#4a8cd8" stroke-width=".5"/>
<circle cx="174.600" cy="15.700" r="4.200" fill="url(#gr)"/><rect x="172.900" y="14" width="3.400" height="3.400" fill="#fff"/>
<use href="#axes" x="254" y="6.400"/><path d="M262.800 7.500v8M262.800 8h2.400M260.400 14.500h2.400" stroke="#129a12" stroke-width="1.400" fill="none"/>
<use href="#axes" x="281.700" y="6.400"/><path d="M290.600 4.300v11.500" stroke="#0a8a0a" stroke-width="1.200"/><rect x="288.600" y="6.600" width="4" height="6.800" fill="#35d835" stroke="#0a8a0a" stroke-width=".8"/>
<use href="#axes" x="309.900" y="6.400"/><path d="M311 15c2-3 4-6.500 6.500-6.200s3.500 3 5.500 4.200" stroke="#129a12" stroke-width="1.300" fill="none"/>
<path d="M351.8 14.300l6 5" stroke="#c9a227" stroke-width="3" stroke-linecap="round"/><path d="M351.8 14.300l6 5" stroke="#f5e07a" stroke-width="1" stroke-linecap="round"/>
<circle cx="347.8" cy="10.100" r="5.300" fill="#d6ecfb" stroke="#2f7fd0" stroke-width="1.300"/>
<path d="M344.8 10.100h6" stroke="#2f6fc0" stroke-width="1.600"/>
<path d="M347.8 7.100v6" stroke="#2f6fc0" stroke-width="1.600"/>
<path d="M379.9 14.300l6 5" stroke="#c9a227" stroke-width="3" stroke-linecap="round"/><path d="M379.9 14.300l6 5" stroke="#f5e07a" stroke-width="1" stroke-linecap="round"/>
<circle cx="375.9" cy="10.100" r="5.300" fill="#d6ecfb" stroke="#2f7fd0" stroke-width="1.300"/>
<path d="M372.9 10.100h6" stroke="#2f6fc0" stroke-width="1.600"/>
<rect x="398" y="4" width="8" height="7.600" fill="#58b436"/><rect x="398" y="4" width="8" height="2.500" fill="#3a9a1a"/><rect x="399.500" y="7.500" width="5" height="3" fill="#fff" opacity=".92"/><path d="M400.500 9h3" stroke="#58b436" stroke-width=".8"/>
<rect x="406.500" y="4" width="8" height="7.600" fill="#4a7cf0"/><rect x="406.500" y="4" width="8" height="2.500" fill="#2348d0"/><rect x="408.0" y="7.500" width="5" height="3" fill="#fff" opacity=".92"/><path d="M409.0 9h3" stroke="#4a7cf0" stroke-width=".8"/>
<rect x="398" y="12" width="8" height="7.600" fill="#4a7cf0"/><rect x="398" y="12" width="8" height="2.500" fill="#2348d0"/><rect x="399.500" y="15.500" width="5" height="3" fill="#fff" opacity=".92"/><path d="M400.500 17h3" stroke="#4a7cf0" stroke-width=".8"/>
<rect x="406.500" y="12" width="8" height="7.600" fill="#58b436"/><rect x="406.500" y="12" width="8" height="2.500" fill="#3a9a1a"/><rect x="408.0" y="15.500" width="5" height="3" fill="#fff" opacity=".92"/><path d="M409.0 17h3" stroke="#58b436" stroke-width=".8"/>
<use href="#axes" x="434" y="6.400"/><path d="M441.300 8.300v7l4.200-3.500z" fill="#b8f0b8" stroke="#18a018" stroke-width="1.100" stroke-linejoin="round"/>
<use href="#axes" x="462" y="6.400"/><path d="M470.700 6v10.500" stroke="#1a5fb0" stroke-width="1.300"/><path d="M476.500 11.500h-4" stroke="#c8321a" stroke-width="1.300"/><path d="M471.500 11.500l3-2.400v4.800z" fill="#c8321a"/>
<use href="#doc" x="495" y="4"/><path d="M498 8.500c-1.200 0-1.200 2-.2 2s-1 2 .2 2" stroke="#8a8a5a" stroke-width=".8" fill="none"/><use href="#plus" x="499.500" y="10.500"/>
<circle cx="541" cy="11.800" r="7.200" fill="#fff" stroke="#1f6fd8" stroke-width="2.200"/><circle cx="541" cy="11.800" r="8.200" fill="none" stroke="#134a9e" stroke-width=".5"/><path d="M541 7.500v4.500h3.500" stroke="#444" stroke-width="1" fill="none"/>
<rect x="572.500" y="5.500" width="15.500" height="13" fill="#fff" stroke="#3d7fd6" stroke-width="1"/><rect x="572.500" y="5.500" width="15.500" height="2.500" fill="#3d7fd6"/><path d="M572.500 12.500h15.500" stroke="#3d7fd6" stroke-width=".8"/><path d="M574.500 11l3-1.500 2.500.8 3-1.800 3 .2" stroke="#b03018" stroke-width="1.100" fill="none"/><path d="M574.500 16.500l3-1.500 2.500.8 3-1.800 3 1.500" stroke="#1a9a2a" stroke-width="1.100" fill="none"/>
<path d="M624.300 5v12.500l3-2.800 2.300 4.800 1.800-.8-2.300-4.700h4.200z" fill="#444"/>
<path d="M656.500 4.500v6M656.500 14v6M649 12.200h6M658 12.200h6" stroke="#444" stroke-width="1.200"/>
<path d="M690.600 6v13M713 12.200h12M741 19l12.300-12" stroke="#555" stroke-width="1.300"/>
<path d="M766.500 14.500l14.500-8.500M767.500 19l14.500-8.500" stroke="#555" stroke-width="1.100"/><path d="M770 19l2.500-10M774 17l2.500-11M778 14.500l2.500-10.500" stroke="#555" stroke-width="1"/><path d="M779.500 16.500h3M779.500 18.500h2.500M779.500 20.500h3M779.800 16.500v4" stroke="#333" stroke-width="1"/>
<path d="M796 5.500h13M796 8.500h13M796 12.500h13M796 16.500h9" stroke="#555" stroke-width="1" stroke-dasharray="1 1"/><path d="M806.800 16.500v4.500M806.500 16.500h3.300M806.500 18.500h2.500" stroke="#333" stroke-width="1"/>
<rect x="853.500" y="5.500" width="11" height="13" fill="none" stroke="#555" stroke-width="1" stroke-dasharray="1 1" shape-rendering="crispEdges"/><path d="M855.800 8.500h6.800M859.200 8.500v8" stroke="#555" stroke-width="1.500"/>
<path d="M883.500 6l3.500 3.500h-7zM890.500 19l3.500-3.500h-7z" fill="#555"/><path d="M881 13l2 2 7-6.500" stroke="#555" stroke-width="1.300" fill="none"/>
<circle cx="1643.500" cy="9.700" r="3.900" fill="none" stroke="#2a55dd" stroke-width="1.100"/><path d="M1640.800 12.600l-4.800 4.600" stroke="#2a55dd" stroke-width="2.200"/>
<path d="M1660.500 14.200c0-2.700 3-4.900 6.600-4.900s6.600 2.200 6.600 4.900-3 4.900-6.600 4.900c-.8 0-1.500-.1-2.200-.3l-1.800 1.700.2-2.400c-1.700-.9-2.800-2.300-2.800-3.900z" fill="#e8e8ee" stroke="#b8b8c0" stroke-width=".7"/>
<circle cx="1674.500" cy="9.500" r="8.400" fill="url(#gr)"/>
<path d="M1672 7.200l2.500-1.700h1v8.200M1672.300 13.800h5" stroke="#fff" stroke-width="1.200" fill="none"/>
</svg>
<span style="position:absolute;left:30px;top:4px;width:37px;height:13px;overflow:hidden;font-size:12px;line-height:13px;color:transparent;white-space:nowrap">新订单</span>
<span style="position:absolute;left:183px;top:4px;width:47px;height:13px;overflow:hidden;font-size:12px;line-height:13px;color:transparent;white-space:nowrap">自动交易</span>
<div style="position:absolute;left:826.5px;top:5.5px;font-size:12.8px;line-height:14px;color:#505050;-webkit-text-stroke:0.35px #505050">A</div>
</div>
</body></html>
